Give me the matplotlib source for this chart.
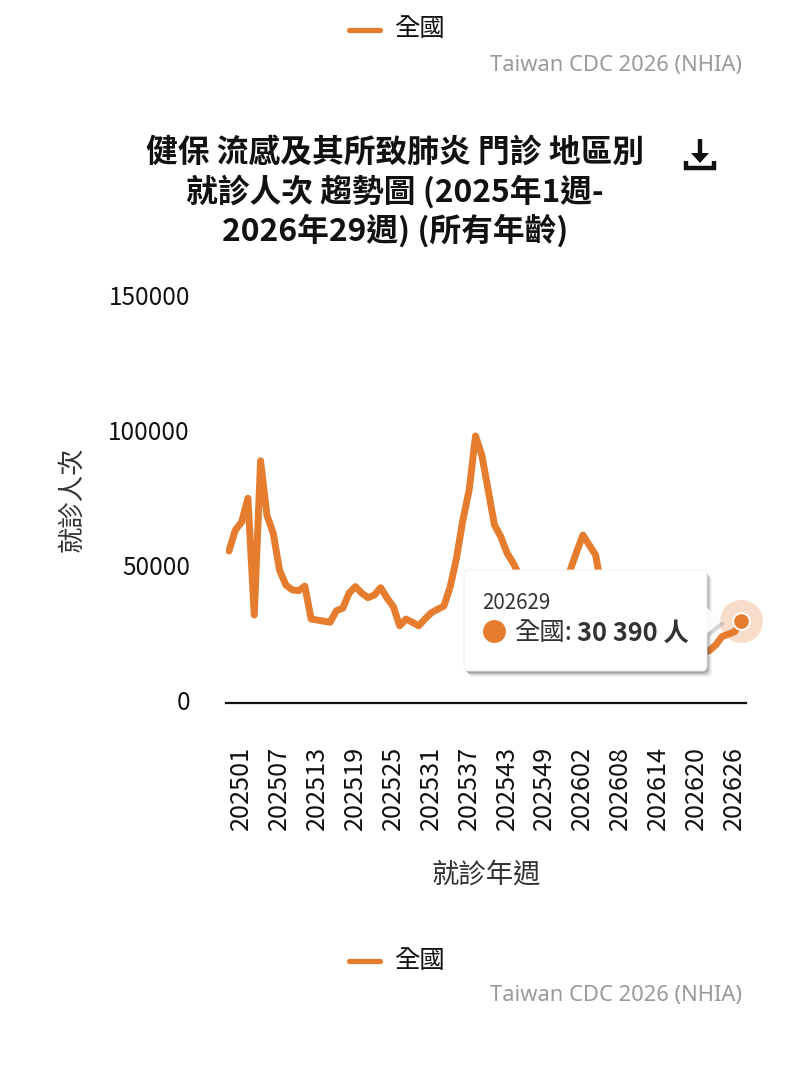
import matplotlib
matplotlib.use("Agg")
import matplotlib.pyplot as plt
from matplotlib.patches import FancyBboxPatch, Polygon
from matplotlib.transforms import ScaledTranslation

plt.rcParams['font.family'] = ['Noto Sans CJK TC', 'DejaVu Sans']

COLOR = '#E67C2E'
W, H = 800, 1077

weeks = [f"2025{w:02d}" for w in range(1, 54)] + [f"2026{w:02d}" for w in range(1, 30)]
visits = [56300, 64000, 67000, 75800, 32600, 89700, 69600, 62900, 49200, 43700,
          41900, 41600, 43300, 31100, 30700, 30300, 29900, 34200, 35100, 40700,
          43100, 40700, 39000, 40000, 42700, 38900, 35700, 28600, 31100, 29900,
          28600, 31100, 33400, 34700, 35900, 43100, 53700, 67800, 78900, 98900,
          91800, 78900, 65900, 61600, 55500, 51700, 47000, 43000, 40000, 38000,
          37000, 37500, 39000, 43000, 49300, 56000, 62200, 58500, 54800, 42000,
          38000, 34000, 31000, 29000, 27000, 26000, 25000, 24000, 23000, 22000,
          21500, 20500, 20000, 19000, 18500, 18800, 19400, 21500, 24600, 25500,
          26400, 30390]
y_ticks = [0, 50000, 100000, 150000]
tick_every = 6
title_lines = ["健保 流感及其所致肺炎 門診 地區別", "就診人次 趨勢圖 (2025年1週-", "2026年29週) (所有年齡)"]
series_name = "全國"
source = "Taiwan CDC 2026 (NHIA)"
x_label = "就診年週"
y_label = "就診人次"

fig = plt.figure(figsize=(W / 100, H / 100), dpi=100, facecolor='white')

# plot area: x 226..746, y 298..703 px
ax = fig.add_axes([226 / W, 1 - 703 / H, 520 / W, 405 / H])
n = len(weeks)
ax.set_xlim(-0.47, n - 1 + 0.79)
ax.set_ylim(0, 150000)
xs = list(range(n))
ax.plot(xs, visits, color=COLOR, lw=5.0, solid_joinstyle='round', solid_capstyle='round', zorder=3)
ax.plot(xs[-1], visits[-1], 'o', ms=31, color=COLOR, alpha=0.25, mec='none', zorder=4, clip_on=False)
ax.plot(xs[-1], visits[-1], 'o', ms=12, color=COLOR, mec='white', mew=1.4, zorder=5, clip_on=False)
for s in ['top', 'right', 'left']:
    ax.spines[s].set_visible(False)
ax.spines['bottom'].set_color('#111111')
ax.spines['bottom'].set_linewidth(1.6)
ax.tick_params(axis='both', length=0)
ax.set_yticks(y_ticks)
ax.set_yticklabels([str(v) for v in y_ticks], fontsize=17.5, color='#111111')
ax.tick_params(axis='y', pad=26)
ax.set_xticks(xs[::tick_every])
ax.set_xticklabels(weeks[::tick_every], rotation=90, fontsize=18.2, color='#111111')
ax.tick_params(axis='x', pad=31)
off = ScaledTranslation(12 / 100, 0, fig.dpi_scale_trans)
for t in ax.get_xticklabels():
    t.set_transform(t.get_transform() + off)
    t.set_ha('center')
up = ScaledTranslation(0, 3 / 100, fig.dpi_scale_trans)
for t in ax.get_yticklabels():
    t.set_transform(t.get_transform() + up)

# overlay in pixel coordinates for page furniture
ov = fig.add_axes([0, 0, 1, 1], facecolor='none')
ov.set_xlim(0, W)
ov.set_ylim(H, 0)
ov.axis('off')

def legend_block(y):
    ov.plot([349, 380], [y + 1, y + 1], color=COLOR, lw=3.8, solid_capstyle='round')
    ov.text(394, y + 0.5, series_name, fontsize=18.3, color='#111111', ha='left', va='center')
    ov.text(742, y + 36, source, fontsize=15.8, color='#9a9a9a', ha='right', va='center',
            family=['Noto Sans', 'DejaVu Sans'])

legend_block(29)
legend_block(960)

for line, y in zip(title_lines, [154, 192, 231]):
    ov.text(395, y, line, fontsize=22.9, fontweight='bold', color='#111111', ha='center', va='center')

ov.text(486, 875, x_label, fontsize=19.7, color='#333333', ha='center', va='center')
ov.text(72, 499, y_label, fontsize=19, color='#333333', ha='center', va='center', rotation=90)

# download icon
ov.plot([700, 700], [139, 158], color='#111111', lw=3.2, solid_capstyle='butt')
ov.add_patch(Polygon([[691, 153], [709, 153], [700, 163]], closed=True, color='#111111', lw=0))
ov.plot([686, 686, 714, 714], [161, 168, 168, 161], color='#111111', lw=3.2,
        solid_joinstyle='miter', solid_capstyle='butt')

# tooltip
for d, a in [(6, 0.06), (5, 0.08), (4, 0.12), (3, 0.16), (2, 0.20)]:
    ov.add_patch(FancyBboxPatch((464 + d - 1, 570 + d), 243, 101, boxstyle="round,pad=0,rounding_size=5",
                                fc='#444444', ec='none', alpha=a))
ov.add_patch(Polygon([[707, 607], [723, 621], [707, 634]], closed=True, fc='#777777', ec='none', alpha=0.3,
                     transform=ov.transData + ScaledTranslation(2 / 100, -3 / 100, fig.dpi_scale_trans)))
ov.add_patch(FancyBboxPatch((464, 570), 243, 101, boxstyle="round,pad=0,rounding_size=5",
                            fc='white', ec='#eeeeee', lw=0.6))
ov.add_patch(Polygon([[706, 607], [722, 621], [706, 634]], closed=True, fc='white', ec='none', alpha=0.92))
ov.text(482, 603, weeks[-1], fontsize=14.8, color='#333333', ha='left', va='center')
ov.plot([494], [631], 'o', ms=16.5, color=COLOR, mec='none')
ov.text(514, 633, series_name + ":", fontsize=18.3, color='#333333', ha='left', va='center')
ov.text(577, 633, "30 390 人", fontsize=18.3, fontweight='bold', color='#333333', ha='left', va='center')

fig.savefig('out.png', dpi=100, facecolor='white')
